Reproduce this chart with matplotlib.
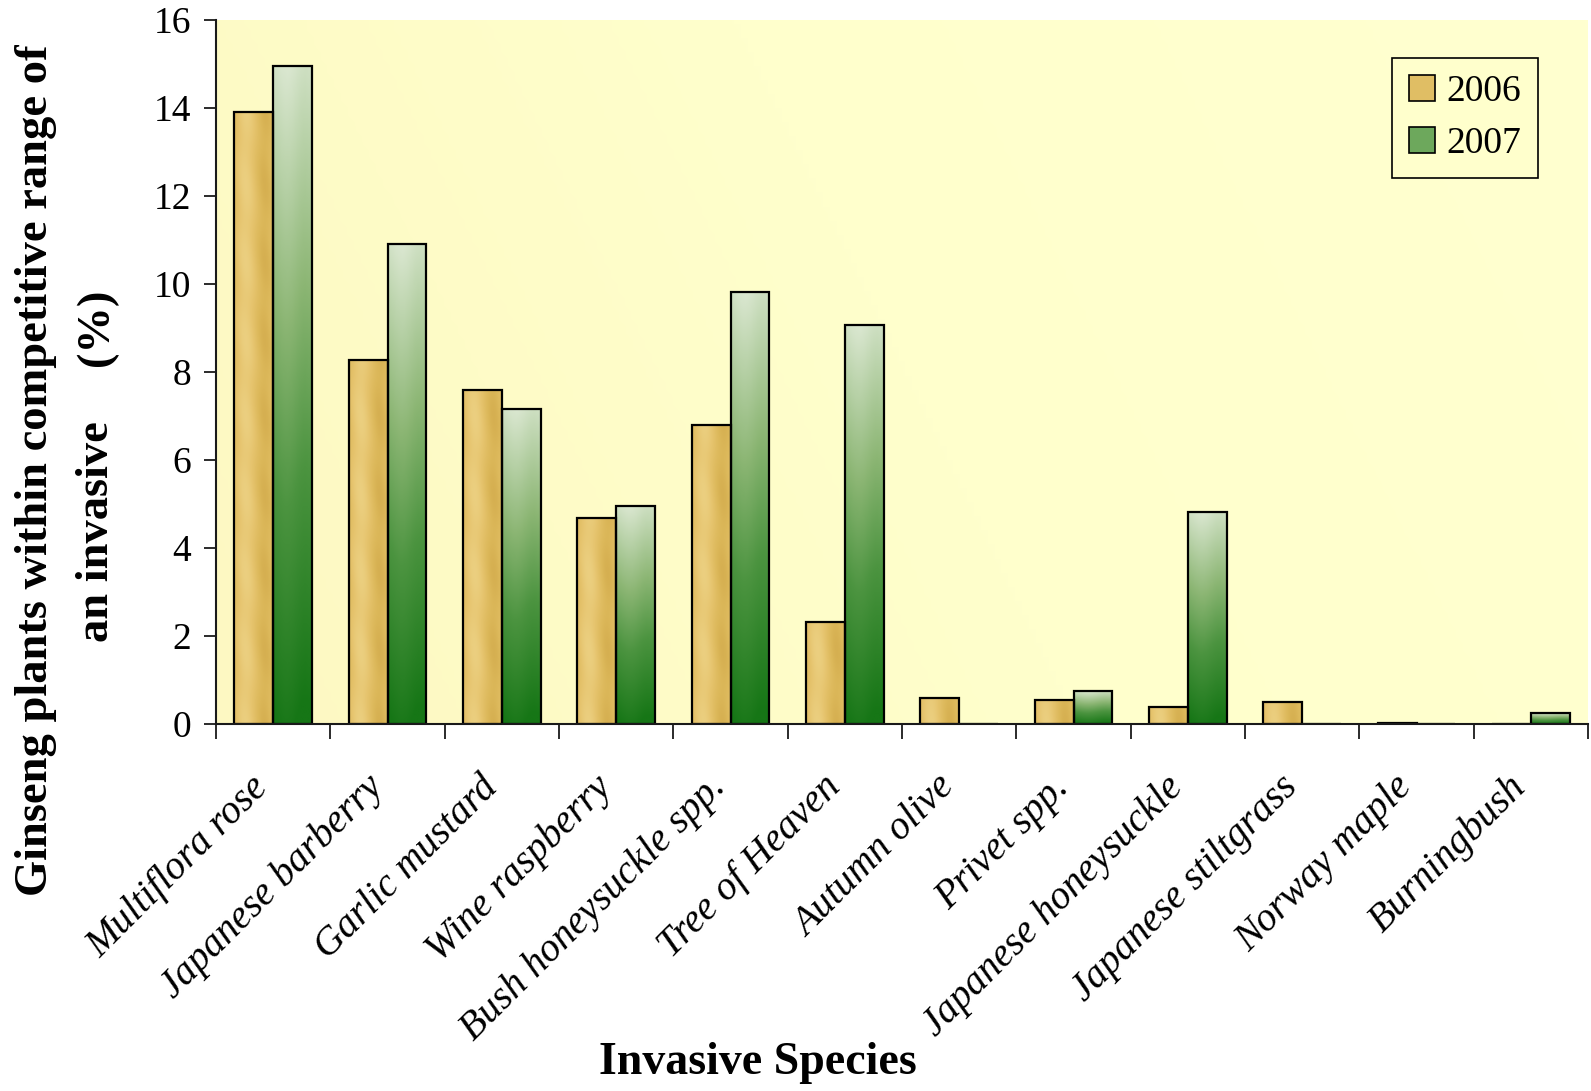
import numpy as np
import matplotlib
matplotlib.use("Agg")
import matplotlib.pyplot as plt
import matplotlib.transforms as mtransforms
from matplotlib.colors import LinearSegmentedColormap
from matplotlib.patches import Patch

# ---------------- data ----------------
species = ["Multiflora rose", "Japanese barberry", "Garlic mustard", "Wine raspberry",
           "Bush honeysuckle spp.", "Tree of Heaven", "Autumn olive", "Privet spp.",
           "Japanese honeysuckle", "Japanese stiltgrass", "Norway maple", "Burningbush"]
y2006 = [13.9, 8.28, 7.58, 4.68, 6.8, 2.31, 0.6, 0.55, 0.39, 0.5, 0.03, 0.0]
y2007 = [14.95, 10.9, 7.17, 4.96, 9.82, 9.06, 0.0, 0.74, 4.82, 0.0, 0.0, 0.25]
years = ["2006", "2007"]
yticks = [0, 2, 4, 6, 8, 10, 12, 14, 16]

# ---------------- style ----------------
plt.rcParams["font.family"] = ["Liberation Serif", "DejaVu Serif"]
W, H = 1591, 1091
fig = plt.figure(figsize=(W / 100, H / 100), dpi=100)
fig.patch.set_facecolor("white")
ax_l, ax_r, ax_t, ax_b = 216, 1588, 20, 724
ax = fig.add_axes([ax_l / W, 1 - ax_b / H, (ax_r - ax_l) / W, (ax_b - ax_t) / H])

n = len(species)
x = np.arange(n)
bw = 0.34
ax.set_xlim(-0.5, n - 0.5)
ax.set_ylim(0, 16)

# background gradient (plot area), nearly uniform pale yellow
bg_cmap = LinearSegmentedColormap.from_list("bg", ["#FDF8C2", "#FFFFCC", "#FFFFD0"])
gx = np.linspace(0, 1, 200)[None, :]
gy = np.linspace(0, 1, 100)[:, None]
bgval = np.clip(0.8 * gx + 0.2 * gy, 0, 1)
ax.imshow(bg_cmap(bgval), extent=(0, 1, 0, 1), transform=ax.transAxes,
          origin="lower", aspect="auto", zorder=0, interpolation="bilinear")

bars06 = ax.bar(x - bw / 2, y2006, bw, facecolor="none", edgecolor="black",
                linewidth=1.6, zorder=3)
bars07 = ax.bar(x + bw / 2, y2007, bw, facecolor="none", edgecolor="black",
                linewidth=1.6, zorder=3)

px_x = (ax_r - ax_l) / n
px_y = (ax_b - ax_t) / 16.0

gold = LinearSegmentedColormap.from_list("gold", ["#CDA445", "#DCB85A", "#E6C46E", "#EDD386"])
green = LinearSegmentedColormap.from_list(
    "green", [(0.0, "#167616"), (0.35, "#4C9440"), (0.62, "#8CB674"), (1.0, "#DAE7D0")])

for p in bars06:
    h = p.get_height()
    if h <= 0:
        continue
    x0, w = p.get_x(), p.get_width()
    wpx, hpx = w * px_x, h * px_y
    nx = 60
    ny = max(2, int(nx * hpx / wpx))
    u = np.linspace(0, 1, nx)[None, :]
    v = np.linspace(0, hpx, ny)[:, None]
    f = 0.55 + 0.3 * np.cos(2 * np.pi * (u - 0.3)) + 0.06 * np.sin(2 * np.pi * (u + v / (wpx * 2.0)))
    im = ax.imshow(gold(np.clip(f, 0, 1)), extent=(x0, x0 + w, 0, h), origin="lower",
                   aspect="auto", zorder=2, interpolation="bilinear")
    im.set_clip_path(p)

for p in bars07:
    h = p.get_height()
    if h <= 0:
        continue
    x0, w = p.get_x(), p.get_width()
    t = np.linspace(0, 1, 256)[:, None]
    u = np.linspace(0, 1, 20)[None, :]
    f = t * 0.97 + 0.03 * np.cos(2 * np.pi * (u - 0.35))
    im = ax.imshow(green(np.clip(f, 0, 1)), extent=(x0, x0 + w, 0, h), origin="lower",
                   aspect="auto", zorder=2, interpolation="bilinear")
    im.set_clip_path(p)

ax.set_xlim(-0.5, n - 0.5)
ax.set_ylim(0, 16)

# axes / ticks
for s in ["top", "right"]:
    ax.spines[s].set_visible(False)
for s in ["left", "bottom"]:
    ax.spines[s].set_linewidth(1.5)
    ax.spines[s].set_color("#1a1a1a")
    ax.spines[s].set_zorder(4)

ax.set_yticks(yticks)
ax.set_yticklabels([str(v) for v in yticks], fontsize=27)
ax.tick_params(axis="y", direction="out", length=9, width=1.3, pad=9, color="#1a1a1a")

ax.set_xticks(x)
ax.set_xticks(np.arange(-0.5, n, 1.0), minor=True)
ax.set_xticklabels(species, fontsize=28.5, fontstyle="italic", rotation=45,
                   ha="right", va="center", rotation_mode="anchor")
ax.tick_params(axis="x", which="major", length=0, pad=36)
ax.tick_params(axis="x", which="minor", direction="out", length=11, width=1.3, color="#1a1a1a")
off = mtransforms.ScaledTranslation(-10 / 100, -8 / 100, fig.dpi_scale_trans)
for lab in ax.get_xticklabels():
    lab.set_transform(lab.get_transform() + off)

# axis titles
fig.text(36 / W, 1 - 470 / H, "Ginseng plants within competitive range of", rotation=90,
         ha="center", va="center", fontsize=33.5, fontweight="bold")
fig.text(97 / W, 1 - 532 / H, "an invasive", rotation=90,
         ha="center", va="center", fontsize=33.5, fontweight="bold")
fig.text(97 / W, 1 - 327 / H, "(%)", rotation=90,
         ha="center", va="center", fontsize=33.5, fontweight="bold")
fig.text(758 / W, 1 - 1063 / H, "Invasive Species", ha="center", va="center",
         fontsize=33, fontweight="bold")

# legend
handles = [Patch(facecolor="#E0BE64", edgecolor="black", linewidth=1.2),
           Patch(facecolor="#6DA85C", edgecolor="black", linewidth=1.2)]
leg = ax.legend(handles, years, loc="upper left", bbox_to_anchor=(0.857, 0.946),
                fontsize=27, frameon=True, fancybox=False, framealpha=1,
                facecolor="#FFFFCC", edgecolor="black", handlelength=0.7,
                handleheight=0.7, handletextpad=0.3, borderpad=0.45, labelspacing=0.45,
                borderaxespad=0)
leg.get_frame().set_linewidth(1.2)
leg.set_zorder(5)

fig.savefig("out.png", dpi=100)
